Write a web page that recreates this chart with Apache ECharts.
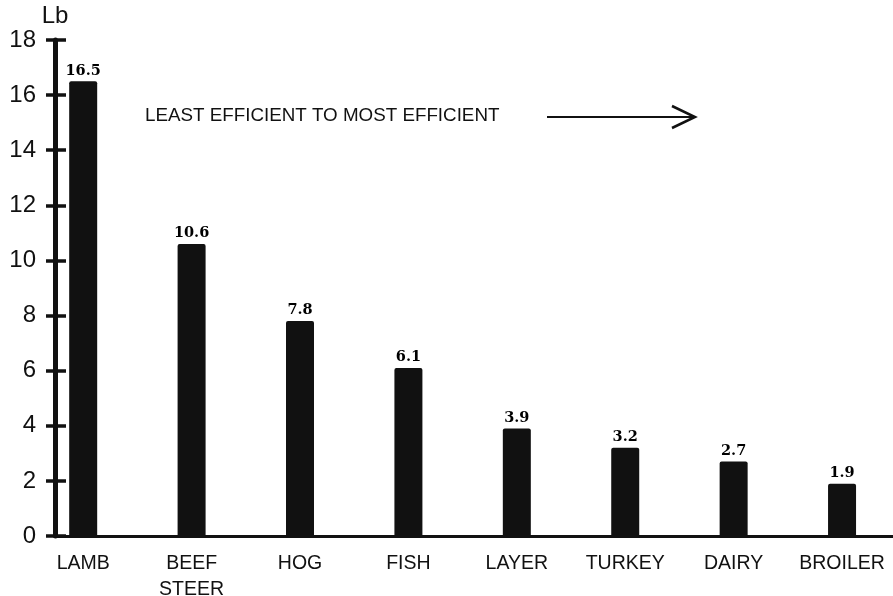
<!DOCTYPE html>
<html>
<head>
<meta charset="utf-8">
<script src="https://cdn.jsdelivr.net/npm/echarts@6/dist/echarts.min.js"></script>
<style>
html,body{margin:0;padding:0;background:#fff;}
#chart{width:893px;height:596px;}
</style>
</head>
<body>
<div id="chart"></div>
<script>
const categories = ['LAMB', 'BEEF\nSTEER', 'HOG', 'FISH', 'LAYER', 'TURKEY', 'DAIRY', 'BROILER'];
const values = [16.5, 10.6, 7.8, 6.1, 3.9, 3.2, 2.7, 1.9];
const yTicks = [0, 2, 4, 6, 8, 10, 12, 14, 16, 18];
const yUnit = 'Lb';
const annotation = 'LEAST EFFICIENT TO MOST EFFICIENT';

const ink = '#111111';
const sans = '"Liberation Sans", Arial, Helvetica, sans-serif';
const serif = '"DejaVu Serif", "Liberation Serif", serif';

const chart = echarts.init(document.getElementById('chart'));
const barData = values.map((v, i) => [i, v]);
const catIdx = categories.map((c, i) => i);

chart.setOption({
  animation: false,
  backgroundColor: '#ffffff',
  grid: { left: 55, right: 0, top: 40, bottom: 60, containLabel: false, outerBoundsMode: 'none' },
  xAxis: {
    type: 'value',
    min: -0.26,
    max: 7.47,
    splitLine: { show: false },
    axisLine: { show: true, onZero: false, lineStyle: { color: ink, width: 3 } },
    axisTick: { show: false },
    axisLabel: {
      customValues: catIdx,
      formatter: v => categories[Math.round(v)] || '',
      color: ink,
      fontFamily: sans,
      fontSize: 19.5,
      lineHeight: 26,
      margin: 15,
      verticalAlign: 'top'
    }
  },
  yAxis: [{
    type: 'value',
    min: yTicks[0],
    max: yTicks[yTicks.length - 1],
    interval: 2,
    name: yUnit,
    nameLocation: 'end',
    nameGap: 6,
    nameTextStyle: { color: ink, fontFamily: sans, fontSize: 24, align: 'center', verticalAlign: 'bottom' },
    splitLine: { show: false },
    axisLine: { show: true, onZero: false, lineStyle: { color: ink, width: 5 } },
    axisTick: { show: true, inside: false, length: 9, lineStyle: { color: ink, width: 3.5 } },
    axisLabel: { color: ink, fontFamily: sans, fontSize: 24, margin: 19 }
  }, {
    type: 'value',
    position: 'left',
    min: yTicks[0],
    max: yTicks[yTicks.length - 1],
    interval: 2,
    splitLine: { show: false },
    axisLine: { show: false, onZero: false },
    axisTick: { show: true, inside: true, length: 11, lineStyle: { color: ink, width: 3.5 } },
    axisLabel: { show: false }
  }],
  series: [{
    type: 'bar',
    data: barData,
    barWidth: 28,
    itemStyle: { color: ink, borderRadius: [2, 2, 0, 0] },
    label: {
      show: true,
      position: 'top',
      distance: 3,
      formatter: p => p.value[1].toFixed(1),
      color: '#000',
      fontFamily: serif,
      fontWeight: 'bold',
      fontSize: 14.5
    }
  }],
  graphic: [
    {
      type: 'text',
      left: 145,
      top: 106,
      style: { text: annotation, fill: ink, font: '18.8px ' + sans }
    },
    {
      type: 'line',
      shape: { x1: 547, y1: 117, x2: 693, y2: 117 },
      style: { stroke: ink, lineWidth: 2 }
    },
    {
      type: 'polyline',
      shape: { points: [[672, 106], [695, 117], [672, 128]] },
      style: { stroke: ink, lineWidth: 2.5, fill: null }
    }
  ]
});
</script>
</body>
</html>
